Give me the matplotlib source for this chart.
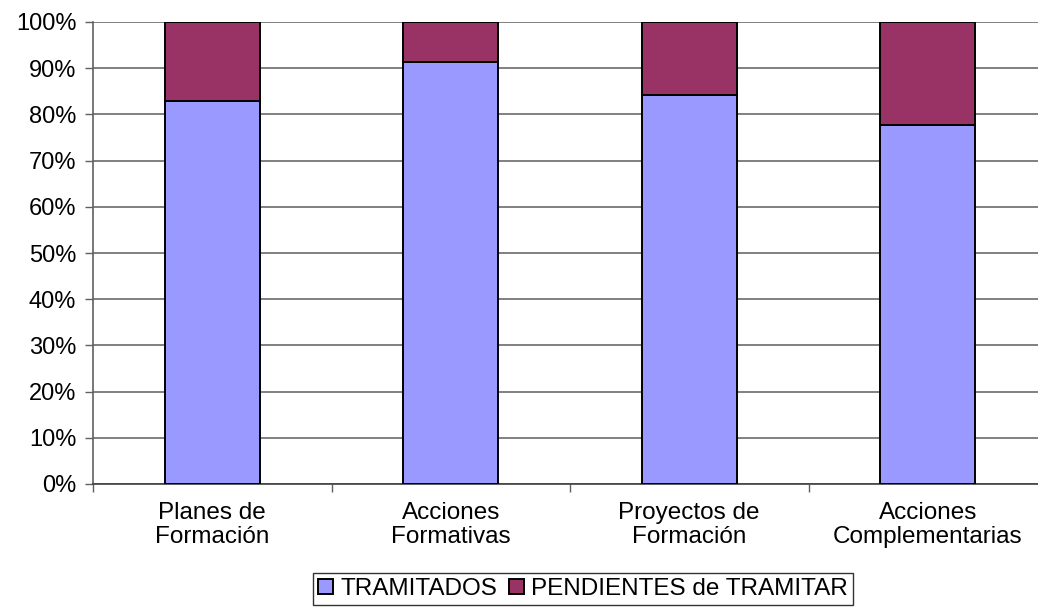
import matplotlib
matplotlib.use("Agg")
import matplotlib.pyplot as plt
import numpy as np
from matplotlib.ticker import PercentFormatter

categories = ["Planes de\nFormación", "Acciones\nFormativas", "Proyectos de\nFormación", "Acciones\nComplementarias"]
tramitados = [82.9, 91.4, 84.3, 77.8]
pendientes = [100 - v for v in tramitados]
series_names = ["TRAMITADOS", "PENDIENTES de TRAMITAR"]
colors = ["#9999FF", "#993366"]

plt.rcParams['font.family'] = ['Liberation Sans', 'DejaVu Sans']

fig = plt.figure(figsize=(10.38, 6.07), dpi=100)
ax = fig.add_axes([93/1038, 1-484/607, 954/1038, 462/607])

x = np.arange(len(categories))
w = 0.40
b1 = ax.bar(x, tramitados, w, color=colors[0], edgecolor="black", linewidth=1.4, label=series_names[0], zorder=3)
b2 = ax.bar(x, pendientes, w, bottom=tramitados, color=colors[1], edgecolor="black", linewidth=1.4, label=series_names[1], zorder=3)

ax.set_xlim(-0.5, len(categories) - 0.5)
ax.set_ylim(0, 100)
ax.set_yticks(np.arange(0, 101, 10))
ax.yaxis.set_major_formatter(PercentFormatter(decimals=0))
ax.grid(axis='y', color='#808080', linewidth=1.4, zorder=0)
ax.set_axisbelow(True)

ax.set_xticks(np.arange(-0.5, len(categories), 1.0))
ax.set_xticklabels([])
ax.set_xticks(x, minor=True)
ax.set_xticklabels(categories, minor=True, fontsize=17.5, linespacing=1.12)
ax.tick_params(axis='x', which='minor', length=0, pad=13)
ax.tick_params(axis='x', which='major', length=6, width=1, color='#606060', direction='out')
ax.tick_params(axis='y', length=6, width=1, color='#606060', labelsize=17, pad=6)

for s in ['top', 'right']:
    ax.spines[s].set_visible(False)
ax.spines['left'].set_color('#606060')
ax.spines['bottom'].set_color('#404040')
ax.spines['left'].set_linewidth(1.2)
ax.spines['bottom'].set_linewidth(1.2)

leg = fig.legend(handles=[b1, b2], labels=series_names, loc='upper center',
                 bbox_to_anchor=(583/1038, 1-573/607), ncol=2, frameon=True,
                 fancybox=False, edgecolor='black', fontsize=17.5,
                 handlelength=0.6, handleheight=0.6, handletextpad=0.3,
                 columnspacing=0.5, borderpad=0.2, borderaxespad=0)
leg.get_frame().set_linewidth(1.0)

fig.savefig("out.png", dpi=100)
